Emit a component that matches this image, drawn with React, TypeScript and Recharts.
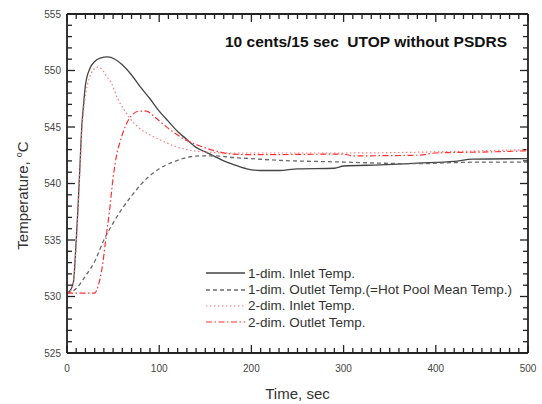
import React from 'react';
import { LineChart, Line, XAxis, YAxis, Legend, ReferenceLine } from 'recharts';

// ---- data (time in sec, temperature in °C) ----
const inlet1Time = [0, 4, 7, 10, 12, 14, 16, 18, 20, 25, 30, 36, 44, 52, 60, 70, 80, 90, 100, 110, 120, 130, 140, 150, 160, 170, 180, 195, 210, 230, 250, 290, 300, 340, 380, 420, 440, 500];
const inlet1Temp = [530.3, 530.6, 531.3, 535.0, 538.0, 541.5, 545.0, 547.0, 548.7, 550.2, 550.8, 551.1, 551.2, 551.0, 550.5, 549.6, 548.5, 547.5, 546.4, 545.5, 544.6, 543.9, 543.2, 542.8, 542.4, 542.0, 541.7, 541.3, 541.15, 541.15, 541.3, 541.35, 541.55, 541.65, 541.8, 541.95, 542.15, 542.2];

const outlet1Time = [0, 10, 20, 30, 40, 50, 60, 70, 80, 90, 100, 115, 130, 145, 160, 180, 200, 230, 270, 300, 340, 380, 420, 460, 500];
const outlet1Temp = [530.3, 530.7, 531.8, 533.1, 535.0, 536.5, 537.8, 538.9, 539.9, 540.7, 541.3, 541.9, 542.3, 542.45, 542.45, 542.3, 542.2, 542.05, 541.95, 541.9, 541.8, 541.75, 541.85, 541.9, 541.9];

const inlet2Time = [0, 5, 8, 10, 12, 14, 16, 18, 20, 24, 28, 33, 38, 42, 48, 55, 62, 67, 77, 90, 100, 117, 133, 150, 170, 200, 300, 400, 450, 500];
const inlet2Temp = [530.3, 530.6, 532.0, 534.5, 537.5, 541.0, 544.5, 546.5, 547.8, 549.3, 550.0, 550.3, 550.1, 549.6, 548.9, 547.5, 546.5, 545.9, 545.0, 544.3, 543.9, 543.3, 542.95, 542.8, 542.7, 542.7, 542.7, 542.8, 542.9, 543.0];

const outlet2Time = [0, 30, 34, 38, 42, 46, 50, 54, 58, 64, 70, 78, 86, 95, 105, 118, 130, 145, 160, 180, 200, 300, 310, 380, 400, 460, 500];
const outlet2Temp = [530.3, 530.3, 531.0, 532.5, 535.0, 537.5, 540.5, 542.6, 543.8, 545.2, 546.0, 546.4, 546.4, 545.9, 545.2, 544.4, 543.8, 543.3, 542.9, 542.6, 542.55, 542.6, 542.45, 542.5, 542.7, 542.8, 542.9];

const seriesNames = [
  '1-dim. Inlet Temp.',
  '1-dim. Outlet Temp.(=Hot Pool Mean Temp.)',
  '2-dim. Inlet Temp.',
  '2-dim. Outlet Temp.',
];
const titleText = '10 cents/15 sec  UTOP without PSDRS';
const xTitle = 'Time, sec';
const yTitle = 'Temperature, ';

const xDomain = [0, 500];
const yDomain = [525, 555];
const xMajorTicks = [0, 100, 200, 300, 400, 500];
const yMajorTicks = [525, 530, 535, 540, 545, 550, 555];
const xMinorTicks = Array.from({ length: 51 }, (_, i) => i * 10);
const yMinorTicks = Array.from({ length: 31 }, (_, i) => 525 + i);

// tick mark lengths expressed in axis units (≈8px major / 5px minor)
const TICK_Y_MAJOR = 0.7;
const TICK_Y_MINOR = 0.44;
const TICK_X_MAJOR = 8.7;
const TICK_X_MINOR = 5.4;

const toData = (ts: number[], vs: number[]) => ts.map((t, i) => ({ t, v: vs[i] }));

const styles = [
  { color: '#444', dash: undefined as string | undefined, width: 1.3 },
  { color: '#6a6a6a', dash: '4 3', width: 1.3 },
  { color: '#ff7a7a', dash: '1.5 2.5', width: 1.2 },
  { color: '#ff3030', dash: '6 2.5 1.5 2.5', width: 1.2 },
];

const FONT = '"Liberation Sans", Arial, sans-serif';
const AX = '#222';
const axisLineStyle = { stroke: AX, strokeWidth: 1.8 };

const XLabelTick = (p: any) => (
  <text x={Number(p.x)} y={Number(p.y)} textAnchor="middle" fontSize={10} fill="#444" fontFamily={FONT}>
    {p.payload.value}
  </text>
);
const YLabelTick = (p: any) => (
  <text x={Number(p.x)} y={Number(p.y) + 3.6} textAnchor="end" fontSize={10} fill="#444" fontFamily={FONT}>
    {p.payload.value}
  </text>
);

const XTitle = (p: any) => {
  const vb = p.viewBox || { x: 67, y: 353, width: 461, height: 51 };
  return (
    <text x={vb.x + vb.width / 2} y={vb.y + 45.5} textAnchor="middle" fontSize={15} fill="#333" fontFamily={FONT}>
      {xTitle}
    </text>
  );
};
const YTitle = (p: any) => {
  const vb = p.viewBox || { x: 0, y: 14, width: 67, height: 339 };
  const cx = vb.x + 28;
  const cy = vb.y + vb.height / 2 + 12;
  return (
    <text x={cx} y={cy} textAnchor="middle" fontSize={15} fill="#333" fontFamily={FONT} transform={`rotate(-90 ${cx} ${cy})`}>
      {yTitle}
      <tspan fontSize={9} dy={-6}>o</tspan>
      <tspan dy={6}>C</tspan>
    </text>
  );
};

const LegendContent = () => (
  <div style={{ fontFamily: FONT, fontSize: 13.5, color: '#333' }}>
    {seriesNames.map((n, i) => (
      <div key={n} style={{ display: 'flex', alignItems: 'center', height: 16.4, whiteSpace: 'nowrap' }}>
        <svg width={40} height={10} style={{ marginRight: 2 }}>
          <line x1={0} x2={39} y1={5} y2={5} stroke={styles[i].color} strokeWidth={styles[i].width} strokeDasharray={styles[i].dash} />
        </svg>
        <span>{n}</span>
      </div>
    ))}
  </div>
);

export default function App() {
  const series = [
    toData(inlet1Time, inlet1Temp),
    toData(outlet1Time, outlet1Temp),
    toData(inlet2Time, inlet2Temp),
    toData(outlet2Time, outlet2Temp),
  ];
  const tickProps = { xAxisId: 'b', yAxisId: 'l', stroke: AX, strokeWidth: 1.3, ifOverflow: 'visible' as const };
  const tickMarks: React.ReactNode[] = [];
  xMinorTicks.forEach((t) => {
    const len = t % 100 === 0 ? TICK_Y_MAJOR : TICK_Y_MINOR;
    tickMarks.push(<ReferenceLine key={`b${t}`} {...tickProps} segment={[{ x: t, y: yDomain[0] }, { x: t, y: yDomain[0] + len }]} />);
    tickMarks.push(<ReferenceLine key={`t${t}`} {...tickProps} segment={[{ x: t, y: yDomain[1] }, { x: t, y: yDomain[1] - len }]} />);
  });
  yMinorTicks.forEach((v) => {
    const len = v % 5 === 0 ? TICK_X_MAJOR : TICK_X_MINOR;
    tickMarks.push(<ReferenceLine key={`l${v}`} {...tickProps} segment={[{ x: xDomain[0], y: v }, { x: xDomain[0] + len, y: v }]} />);
    tickMarks.push(<ReferenceLine key={`r${v}`} {...tickProps} segment={[{ x: xDomain[1], y: v }, { x: xDomain[1] - len, y: v }]} />);
  });

  return (
    <div style={{ position: 'absolute', left: 0, top: 0, width: 542, height: 404 }}>
      <LineChart width={542} height={404} margin={{ top: 13, right: 13, left: 0, bottom: 0 }}>
        <XAxis
          xAxisId="b" dataKey="t" type="number" domain={xDomain} ticks={xMajorTicks} interval={0}
          height={51} tickSize={0} tickMargin={19} tickLine={false} tick={(p: any) => <XLabelTick {...p} />}
          axisLine={axisLineStyle} label={<XTitle />}
        />
        <XAxis
          xAxisId="t" orientation="top" dataKey="t" type="number" domain={xDomain} ticks={xMajorTicks} interval={0}
          height={1} tickLine={false} tick={false} axisLine={axisLineStyle}
        />
        <YAxis
          yAxisId="l" type="number" domain={yDomain} ticks={yMajorTicks} interval={0}
          width={67} tickSize={0} tickMargin={6} tickLine={false} tick={(p: any) => <YLabelTick {...p} />}
          axisLine={axisLineStyle} label={<YTitle />}
        />
        <YAxis
          yAxisId="r" orientation="right" type="number" domain={yDomain} ticks={yMajorTicks} interval={0}
          width={1} tickLine={false} tick={false} axisLine={axisLineStyle}
        />
        {tickMarks}
        {series.map((d, i) => (
          <Line
            key={seriesNames[i]} name={seriesNames[i]} data={d} dataKey="v" xAxisId="b" yAxisId="l"
            type="monotone" stroke={styles[i].color} strokeWidth={styles[i].width}
            strokeDasharray={styles[i].dash} dot={false} activeDot={false} isAnimationActive={false}
          />
        ))}
        <Legend
          layout="vertical" align="center" verticalAlign="middle" content={<LegendContent />}
          wrapperStyle={{ left: 206, top: 265, width: 320, height: 70 }}
        />
      </LineChart>
      <div
        style={{
          position: 'absolute', left: 225, top: 33, fontFamily: FONT, fontWeight: 'bold', fontSize: 15.5,
          lineHeight: '17px', whiteSpace: 'pre', color: '#111',
        }}
      >
        {titleText}
      </div>
    </div>
  );
}
